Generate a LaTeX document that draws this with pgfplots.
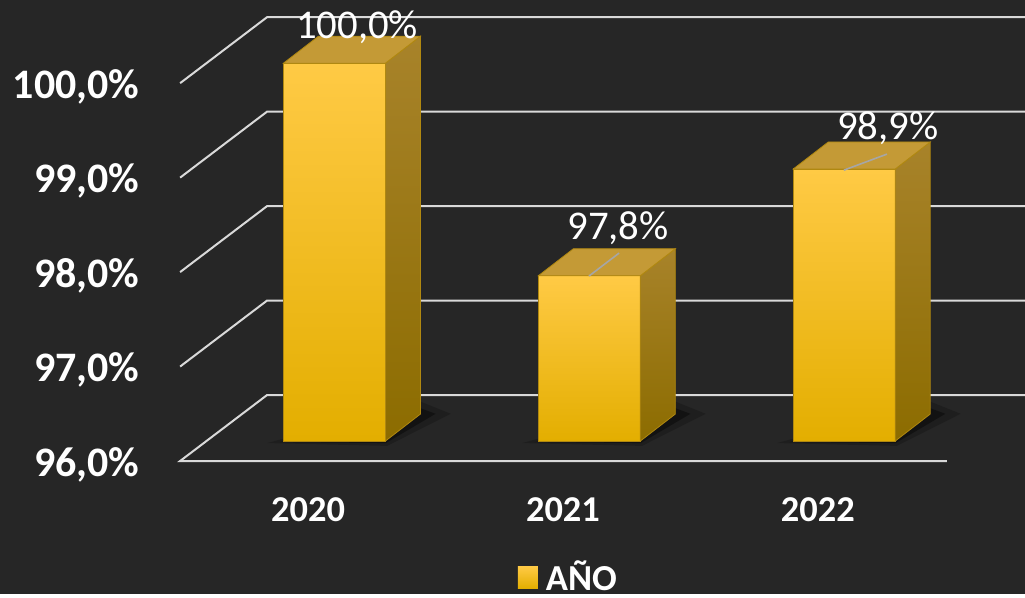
\documentclass[border=0pt]{standalone}
\usepackage{pgfplots}
\pgfplotsset{compat=1.18}
\usepackage{fontspec}
\setmainfont{Carlito}
\definecolor{bg}{HTML}{262626}
\definecolor{gridc}{HTML}{D9D9D9}
\definecolor{ftop}{HTML}{FFCA45}
\definecolor{fmid}{HTML}{FFC000}
\definecolor{fbot}{HTML}{E3AE00}
\definecolor{stop}{HTML}{A8832A}
\definecolor{sbot}{HTML}{8C6C00}
\definecolor{ttop}{HTML}{C49A36}
\definecolor{edgec}{HTML}{B08810}
\definecolor{leader}{HTML}{A6A6A6}
\begin{document}
\begin{tikzpicture}
\begin{axis}[
  scale only axis, width=512.5pt, height=297pt,
  xmin=-1.2078, xmax=2.8118, ymin=94.5926, ymax=100.8783,
  axis background/.style={fill=bg},
  axis line style={draw=none},
  major tick length=0pt,
  xtick={0,1,2}, xticklabels={2020,2021,2022},
  ytick={96,97,98,99,100},
  yticklabels={{96,0\%},{97,0\%},{98,0\%},{99,0\%},{100,0\%}},
  xticklabel style={anchor=base, inner sep=0pt, yshift=36.5pt, font=\bfseries\fontsize{18.2}{20}\selectfont, text=white},
  yticklabel style={anchor=base east, inner sep=0pt, xshift=69.8pt, yshift=-7.5pt, font=\bfseries\fontsize{21}{24}\selectfont, text=white},
  legend style={at={(rel axis cs:0.5556,0.028)}, anchor=center, draw=none, fill=none, text=white, font=\bfseries\fontsize{18.3}{20}\selectfont, inner sep=0pt},
  legend cell align=left,
]
\addlegendimage{legend image code/.code={\fill[draw=none, top color=ftop, bottom color=fbot] (0pt,-5.5pt) rectangle (10pt,5.5pt); \path[draw=none, fill=none] (0pt,0pt) -- (12pt,0pt);}}
\addlegendentry{AÑO}

% gridlines (front diagonal + back wall)
\addplot[gridc, line width=1pt, forget plot] coordinates {(2.506,96) (-0.502,96) (-0.161,96.6984) (2.8118,96.6984)};
\addplot[gridc, line width=1pt, forget plot] coordinates {(-0.502,97) (-0.161,97.6984) (2.8118,97.6984)};
\addplot[gridc, line width=1pt, forget plot] coordinates {(-0.502,98) (-0.161,98.6984) (2.8118,98.6984)};
\addplot[gridc, line width=1pt, forget plot] coordinates {(-0.502,99) (-0.161,99.6984) (2.8118,99.6984)};
\addplot[gridc, line width=1pt, forget plot] coordinates {(-0.502,100) (-0.161,100.6984) (2.8118,100.6984)};

% shadows
\addplot[fill=black, draw=none, opacity=0.2, forget plot] coordinates {(-0.16,96.19) (0.31,96.16) (0.56,96.50) (0.44,96.63)} -- cycle;
\addplot[fill=black, draw=none, opacity=0.4, forget plot] coordinates {(-0.11,96.20) (0.305,96.19) (0.50,96.50) (0.44,96.56)} -- cycle;
\addplot[fill=black, draw=none, opacity=0.2, forget plot] coordinates {(0.84,96.19) (1.31,96.16) (1.56,96.50) (1.44,96.63)} -- cycle;
\addplot[fill=black, draw=none, opacity=0.4, forget plot] coordinates {(0.89,96.20) (1.305,96.19) (1.50,96.50) (1.44,96.56)} -- cycle;
\addplot[fill=black, draw=none, opacity=0.2, forget plot] coordinates {(1.84,96.19) (2.31,96.16) (2.56,96.50) (2.44,96.63)} -- cycle;
\addplot[fill=black, draw=none, opacity=0.4, forget plot] coordinates {(1.89,96.20) (2.305,96.19) (2.50,96.50) (2.44,96.56)} -- cycle;

% bar 2020 : 100.0
\addplot[draw=edgec, line width=0.4pt, top color=ftop, middle color=fmid, bottom color=fbot, forget plot] coordinates {(-0.0965,96.2116) (0.3035,96.2116) (0.3035,100.2116) (-0.0965,100.2116)} -- cycle;
\addplot[draw=edgec, line width=0.4pt, top color=stop, bottom color=sbot, forget plot] coordinates {(0.3035,96.2116) (0.4408,96.4973) (0.4408,100.4973) (0.3035,100.2116)} -- cycle;
\addplot[draw=edgec, line width=0.4pt, fill=ttop, forget plot] coordinates {(-0.0965,100.2116) (0.3035,100.2116) (0.4408,100.4973) (0.0408,100.4973)} -- cycle;

% bar 2021 : 97.75
\addplot[draw=edgec, line width=0.4pt, top color=ftop, middle color=fmid, bottom color=fbot, forget plot] coordinates {(0.9035,96.2116) (1.3035,96.2116) (1.3035,97.9616) (0.9035,97.9616)} -- cycle;
\addplot[draw=edgec, line width=0.4pt, top color=stop, bottom color=sbot, forget plot] coordinates {(1.3035,96.2116) (1.4408,96.4973) (1.4408,98.2473) (1.3035,97.9616)} -- cycle;
\addplot[draw=edgec, line width=0.4pt, fill=ttop, forget plot] coordinates {(0.9035,97.9616) (1.3035,97.9616) (1.4408,98.2473) (1.0408,98.2473)} -- cycle;

% bar 2022 : 98.88
\addplot[draw=edgec, line width=0.4pt, top color=ftop, middle color=fmid, bottom color=fbot, forget plot] coordinates {(1.9035,96.2116) (2.3035,96.2116) (2.3035,99.0916) (1.9035,99.0916)} -- cycle;
\addplot[draw=edgec, line width=0.4pt, top color=stop, bottom color=sbot, forget plot] coordinates {(2.3035,96.2116) (2.4408,96.4973) (2.4408,99.3773) (2.3035,99.0916)} -- cycle;
\addplot[draw=edgec, line width=0.4pt, fill=ttop, forget plot] coordinates {(1.9035,99.0916) (2.3035,99.0916) (2.4408,99.3773) (2.0408,99.3773)} -- cycle;

% leader lines
\addplot[leader, line width=0.8pt, forget plot] coordinates {(1.102,97.958) (1.220,98.201)};
\addplot[leader, line width=0.8pt, forget plot] coordinates {(2.102,99.079) (2.271,99.249)};

% data labels
\node[anchor=base, text=white, inner sep=0pt, font=\fontsize{20.4}{24}\selectfont] at (axis cs:0.192,100.476) {100,0\%};
\node[anchor=base, text=white, inner sep=0pt, font=\fontsize{20.4}{24}\selectfont] at (axis cs:1.216,98.349) {97,8\%};
\node[anchor=base, text=white, inner sep=0pt, font=\fontsize{20.4}{24}\selectfont] at (axis cs:2.275,99.407) {98,9\%};
\end{axis}
\end{tikzpicture}
\end{document}
